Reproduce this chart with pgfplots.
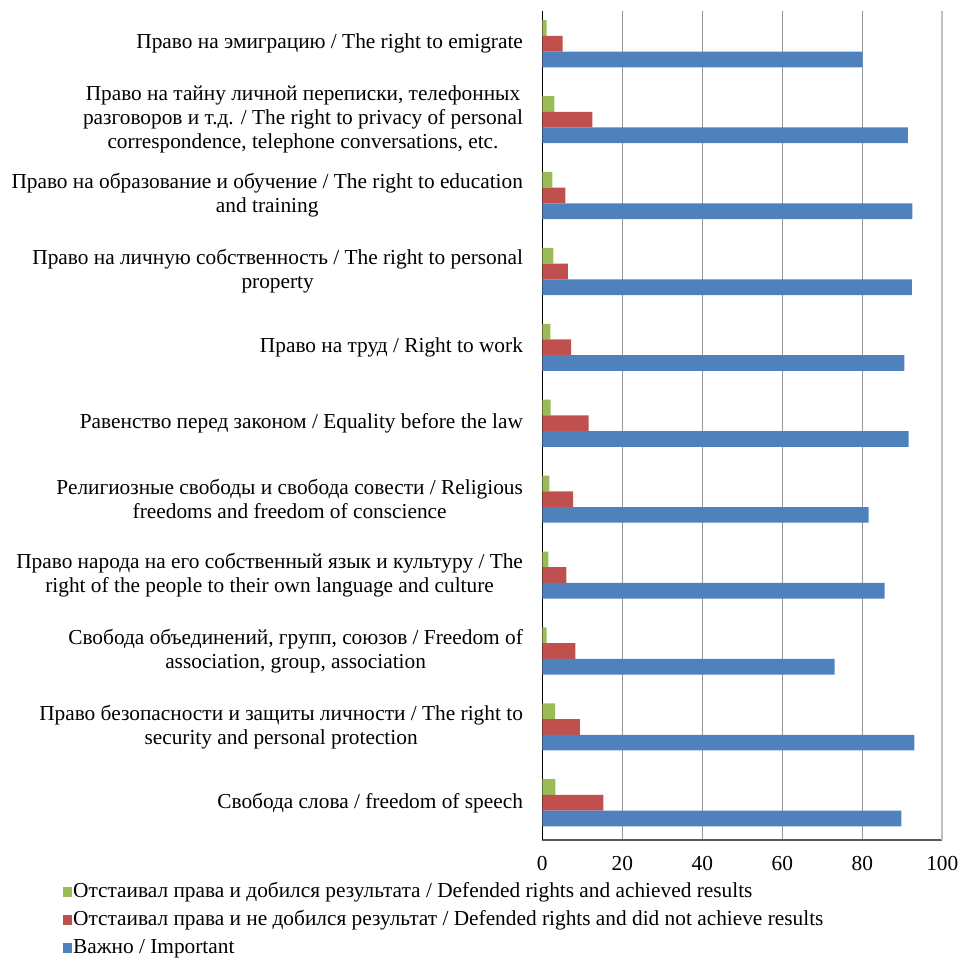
\documentclass[border=0pt]{standalone}
\usepackage{fontspec}
\setmainfont{Liberation Serif}
\usepackage{pgfplots}
\pgfplotsset{compat=1.18}

\definecolor{cgreen}{HTML}{9BBB59}
\definecolor{cred}{HTML}{C0504D}
\definecolor{cblue}{HTML}{4F81BD}
\definecolor{cgrid}{HTML}{969696}
\definecolor{cgridlight}{HTML}{C0C0C0}

\begin{document}
\begin{tikzpicture}
\begin{axis}[
    scale only axis,
    width=300pt, height=621.75pt,
    xmin=0, xmax=100,
    ymin=0.51, ymax=11.431,
    xtick={0,20,40,60,80},
    extra x ticks={100},
    extra x tick style={major grid style={cgridlight, line width=1.2pt}},
    ytick={1,...,11},
    yticklabels={
        Свобода слова / freedom of speech,
        {Право безопасности и защиты личности / The right to\\security and personal protection},
        {Свобода объединений, групп, союзов / Freedom of\\association, group, association},
        {Право народа на его собственный язык и культуру / The\\right of the people to their own language and culture},
        {Религиозные свободы и свобода совести / Religious\\freedoms and freedom of conscience},
        Равенство перед законом / Equality before the law,
        Право на труд / Right to work,
        {Право на личную собственность / The right to personal\\property},
        {Право на образование и обучение / The right to education\\and training},
        {Право на тайну личной переписки, телефонных\\разговоров и т.д. / The right to privacy of personal\\correspondence, telephone conversations, etc.},
        Право на эмиграцию / The right to emigrate},
    yticklabel style={align=center, font=\fontsize{16}{18}\selectfont, inner sep=0pt, xshift=-14.3pt},
    xticklabel style={font=\fontsize{16}{18}\selectfont, yshift=-9pt},
    /pgf/number format/assume math mode=true,
    axis x line*=bottom, axis y line*=left,
    x axis line style={draw=gray!70!black, line width=0.8pt, -},
    y axis line style={draw=black, line width=0.8pt, -},
    major tick length=0pt,
    xmajorgrids, grid style={cgrid, line width=0.8pt},
    clip=false,
    legend style={at={(0,0)}, anchor=north west, xshift=-360pt, yshift=-31.75pt,
        draw=none, fill=none, inner sep=0pt, font=\fontsize{16}{18}\selectfont,
        row sep=6pt, nodes={inner ysep=0pt, inner xsep=0.6pt, text height=11pt, text depth=4pt}},
    legend cell align=left,
    legend image code/.code={\fill[#1] (0pt,-3.6pt) rectangle (7.4pt,4.2pt);},
]
\addplot[xbar, bar width=0.207, bar shift=0.207, fill=cgreen, draw=none] coordinates {
    (3.3,1) (3.2,2) (1.1,3) (1.5,4) (1.75,5) (2.1,6) (2.0,7) (2.75,8) (2.5,9) (3.0,10) (1.1,11)
};
\addlegendentry{Отстаивал права и добился результата / Defended rights and achieved results}
\addplot[xbar, bar width=0.207, bar shift=0, fill=cred, draw=none] coordinates {
    (15.25,1) (9.4,2) (8.25,3) (6.0,4) (7.7,5) (11.6,6) (7.2,7) (6.4,8) (5.8,9) (12.5,10) (5.1,11)
};
\addlegendentry{Отстаивал права и не добился результат / Defended rights and did not achieve results}
\addplot[xbar, bar width=0.207, bar shift=-0.207, fill=cblue, draw=none] coordinates {
    (89.8,1) (93.0,2) (73.1,3) (85.6,4) (81.6,5) (91.6,6) (90.5,7) (92.4,8) (92.5,9) (91.4,10) (80.1,11)
};
\addlegendentry{Важно / Important}
\coordinate (O) at (rel axis cs:0,0);
\end{axis}
\pgfresetboundingbox
\path (O) ++(-406.7pt,-90pt) rectangle ++(722.25pt,720pt);
\end{tikzpicture}
\end{document}
